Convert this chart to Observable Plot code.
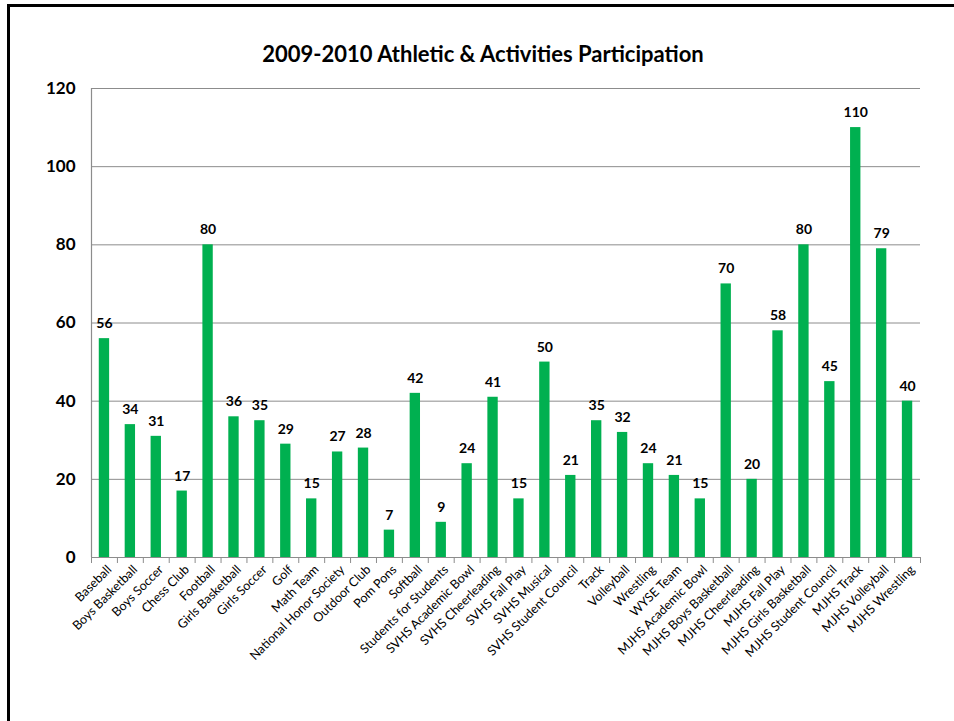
<!DOCTYPE html>
<html>
<head>
<meta charset="utf-8">
<script src="https://cdn.jsdelivr.net/npm/d3@7"></script>
<script src="https://cdn.jsdelivr.net/npm/@observablehq/plot@0.6"></script>
<style>
  html, body { margin: 0; padding: 0; background: #fff; }
  #wrap { position: relative; width: 954px; height: 721px; overflow: hidden; font-family: Lato, "Open Sans", sans-serif; }
  #frame { position: absolute; left: 7px; top: 4px; width: 1000px; height: 1000px; border-left: 3px solid #000; border-top: 3px solid #000; box-sizing: border-box; }
  #title { position: absolute; left: 0; width: 966px; top: 40px; text-align: center; font-weight: bold; font-size: 22px; color: #000; }
  #chart { position: absolute; left: 0; top: 0; }
</style>
</head>
<body>
<div id="wrap">
  <div id="frame"></div>
  <div id="chart"></div>
  <div id="title">2009-2010 Athletic &amp; Activities Participation</div>
</div>
<script>
const categories = [
  "Baseball", "Boys Basketball", "Boys Soccer", "Chess Club", "Football",
  "Girls Basketball", "Girls Soccer", "Golf", "Math Team", "National Honor Society",
  "Outdoor Club", "Pom Pons", "Softball", "Students for Students", "SVHS Academic Bowl",
  "SVHS Cheerleading", "SVHS Fall Play", "SVHS Musical", "SVHS Student Council", "Track",
  "Volleyball", "Wrestling", "WYSE Team", "MJHS Academic Bowl", "MJHS Boys Basketball",
  "MJHS Cheerleading", "MJHS Fall Play", "MJHS Girls Basketball", "MJHS Student Council", "MJHS Track",
  "MJHS Volleyball", "MJHS Wrestling"
];
const participants = [
  56, 34, 31, 17, 80,
  36, 35, 29, 15, 27,
  28, 7, 42, 9, 24,
  41, 15, 50, 21, 35,
  32, 24, 21, 15, 70,
  20, 58, 80, 45, 110,
  79, 40
];
const yTicks = [0, 20, 40, 60, 80, 100, 120];

const data = categories.map((c, i) => ({category: c, value: participants[i]}));

const W = 954, H = 721, ML = 91, MR = 34, MT = 88, MB = 164;
const step = (W - ML - MR) / categories.length;
const gridColor = "#8c8c8c";

const chart = Plot.plot({
  width: W,
  height: H,
  marginLeft: ML,
  marginRight: MR,
  marginTop: MT,
  marginBottom: MB,
  style: {fontFamily: "Lato, 'Open Sans', sans-serif", background: "transparent", overflow: "visible"},
  x: {domain: categories, paddingInner: 0.6, paddingOuter: 0.3, round: false, label: null},
  y: {domain: [0, 120], ticks: yTicks, label: null},
  marks: [
    Plot.gridY(yTicks.filter(t => t > 0), {stroke: gridColor, strokeOpacity: 1, strokeWidth: 1}),
    Plot.barY(data, {x: "category", y: "value", fill: "#00B050"}),
    Plot.text(data, {x: "category", y: "value", text: d => String(d.value), dy: -15, fontWeight: "bold", fontSize: 14, fill: "#000"}),
    Plot.ruleY([0], {stroke: gridColor, strokeWidth: 1.2}),
    Plot.ruleX([categories[0]], {x: d => d, dx: -step / 2, y1: 0, y2: 120, stroke: gridColor, strokeWidth: 1.2}),
    Plot.ruleX(categories, {x: d => d, dx: -step / 2, y1: 0, y2: 0, insetBottom: -6, stroke: gridColor}),
    Plot.ruleX([categories[categories.length - 1]], {x: d => d, dx: step / 2, y1: 0, y2: 0, insetBottom: -6, stroke: gridColor}),
    Plot.ruleY(yTicks, {y: d => d, x1: categories[0], x2: categories[0], dx: -step / 2, insetLeft: -6, stroke: gridColor}),
    Plot.axisY(yTicks, {tickSize: 0, tickPadding: 16, fontSize: 17, fontWeight: "bold", fill: "#000", tickFormat: d => String(d), label: null}),
    Plot.axisX({tickSize: 0, tickRotate: -45, tickPadding: 10, fontSize: 12.5, fill: "#000", dx: 5, label: null})
  ]
});
document.getElementById("chart").appendChild(chart);
</script>
</body>
</html>
